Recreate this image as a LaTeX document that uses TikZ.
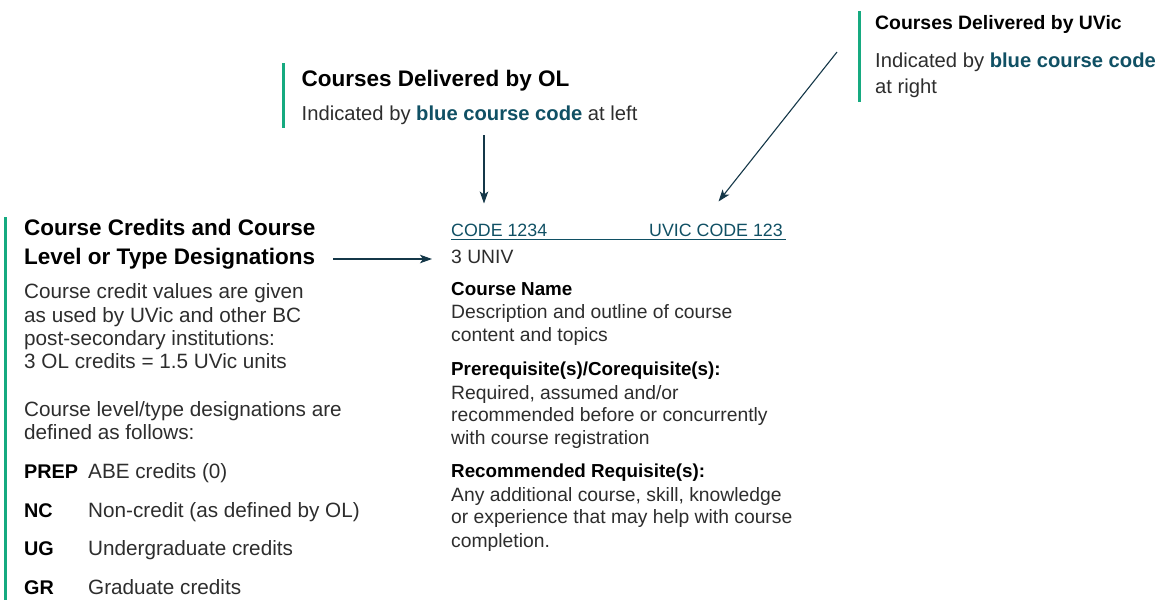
\documentclass[tikz,border=0pt]{standalone}
\usepackage{fontspec}
\setmainfont{Liberation Sans}
\usetikzlibrary{arrows.meta}
\definecolor{olgreen}{RGB}{22,170,128}
\definecolor{codeblue}{RGB}{16,80,100}
\definecolor{arrowblue}{RGB}{20,55,72}
\definecolor{bodygray}{RGB}{45,45,45}
\tikzset{
  bar/.style={draw=olgreen,line width=3pt},
  head/.style={anchor=base west,inner sep=0pt,text=black,font=\bfseries\fontsize{22.5}{26}\selectfont},
  uhead/.style={head,font=\bfseries\fontsize{19.4}{23}\selectfont},
  sub/.style={anchor=base west,inner sep=0pt,text=bodygray,font=\fontsize{20.2}{24}\selectfont},
  txt/.style={anchor=base west,inner sep=0pt,text=bodygray,font=\fontsize{20.7}{24}\selectfont},
  lvl/.style={txt,text=black,font=\bfseries\fontsize{19.8}{24}\selectfont},
  code/.style={anchor=base west,inner sep=0pt,text=codeblue,font=\fontsize{17.8}{21}\selectfont},
  rtxt/.style={anchor=base west,inner sep=0pt,text=bodygray,font=\fontsize{19.3}{23}\selectfont},
  rhead/.style={rtxt,text=black,font=\bfseries\fontsize{18.8}{22}\selectfont},
  pointer/.style={draw=arrowblue,line width=1.1pt,-{Stealth[length=12pt,width=8.5pt,inset=3pt]}}
}
\newcommand{\bluecode}{\textbf{\textcolor{codeblue}{blue course code}}}

\begin{document}
\begin{tikzpicture}[x=1pt,y=-1pt]
\useasboundingbox (0,0) rectangle (1159,600);

% courses delivered by OL
\draw[bar] (283.5,63) -- (283.5,128);
\node[head] (o1) at (301.5,86.5) {Courses Delivered by OL};
\node[sub] (o2) at (301.5,120) {Indicated by \bluecode{} at left};

% courses delivered by UVic
\draw[bar] (859,11) -- (859,102);
\node[uhead] (u1) at (875,29.5) {Courses Delivered by UVic};
\node[sub] (u2) at (875,67) {Indicated by \bluecode};
\node[sub] (u3) at (875,93) {at right};

% credits and designations
\draw[bar] (5,217) -- (5,600);
\node[head] (c1) at (24,235) {Course Credits and Course};
\node[head] (c2) at (24,264) {Level or Type Designations};
\node[txt] (b1) at (24,298.5) {Course credit values are given};
\node[txt] (b2) at (24,322) {as used by UVic and other BC};
\node[txt] (b3) at (24,345.3) {post-secondary institutions:};
\node[txt] (b4) at (24,368.6) {3 OL credits = 1.5 UVic units};
\node[txt] (b5) at (24,416.5) {Course level/type designations are};
\node[txt] (b6) at (24,439.8) {defined as follows:};

\node[lvl] (l1) at (24,478.5) {PREP};
\node[txt] (e1) at (88,478.5) {ABE credits (0)};
\node[lvl] (l2) at (24,517) {NC};
\node[txt] (e2) at (88,517) {Non-credit (as defined by OL)};
\node[lvl] (l3) at (24,555.5) {UG};
\node[txt] (e3) at (88,555.5) {Undergraduate credits};
\node[lvl] (l4) at (24,594) {GR};
\node[txt] (e4) at (88,594) {Graduate credits};

% sample course entry
\node[code] (k1) at (451,236.5) {CODE 1234};
\node[code] (k2) at (649,236.5) {UVIC CODE 123};
\draw[codeblue,line width=1.2pt] (451,239.8) -- (786,239.8);
\node[rtxt] (n0) at (451,263.5) {3 UNIV};

\node[rhead] (n1) at (451,295.5) {Course Name};
\node[rtxt] (n2) at (451,318.5) {Description and outline of course};
\node[rtxt] (n3) at (451,341) {content and topics};

\node[rhead] (p1) at (451,375.5) {Prerequisite(s)/Corequisite(s):};
\node[rtxt] (p2) at (451,399) {Required, assumed and/or};
\node[rtxt] (p3) at (451,421.5) {recommended before or concurrently};
\node[rtxt] (p4) at (451,444) {with course registration};

\node[rhead] (r1) at (451,477.5) {Recommended Requisite(s):};
\node[rtxt] (r2) at (451,501.5) {Any additional course, skill, knowledge};
\node[rtxt] (r3) at (451,523.5) {or experience that may help with course};
\node[rtxt] (r4) at (451,547) {completion.};

% arrows
\coordinate (a1) at (484,135);
\coordinate (a2) at (484,203.5);
\coordinate (a3) at (837,52);
\coordinate (a4) at (718.5,201.5);
\coordinate (a5) at (333,259);
\coordinate (a6) at (432,259);
\draw[pointer] (a1) -- (a2);
\draw[pointer] (a3) -- (a4);
\draw[pointer] (a5) -- (a6);
\end{tikzpicture}
\end{document}
